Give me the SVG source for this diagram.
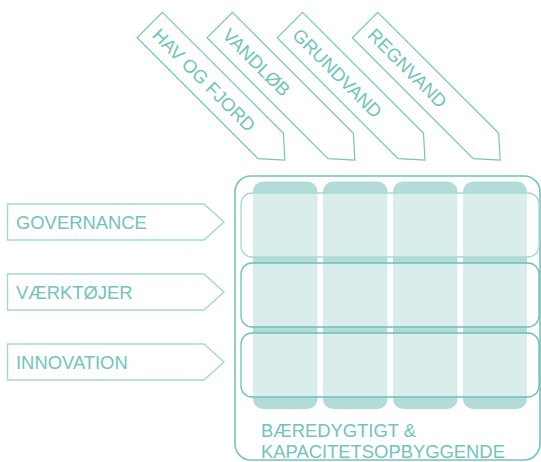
<svg xmlns="http://www.w3.org/2000/svg" width="541" height="462" viewBox="0 0 541 462">
<style>
.t{font-family:"Liberation Sans",Arial,sans-serif;font-size:18.4px;fill:#6fc4bb}
.la{fill:#fff;stroke:#a3d8d3;stroke-width:1.4}
.da{fill:#fff;stroke:#74c6be;stroke-width:1.2}
.col{fill:#b3dcd9}
.row{fill:#fff;fill-opacity:0.5;stroke-width:1.3}
</style>
<defs>
<polygon id="darrow" points="0,0 171,0 191,18 171,36 0,36"/>
</defs>
<g id="frame">
<rect x="235" y="176" width="305" height="284" rx="16" ry="16" fill="#fff" stroke="#74c4bb" stroke-width="1.6"/>
</g>
<g id="columns">
<rect class="col" x="253" y="181.5" width="64.5" height="227.5" rx="10" ry="10"/>
<rect class="col" x="323" y="181.5" width="64.5" height="227.5" rx="10" ry="10"/>
<rect class="col" x="393" y="181.5" width="64.5" height="227.5" rx="10" ry="10"/>
<rect class="col" x="463" y="181.5" width="64" height="227.5" rx="10" ry="10"/>
</g>
<g id="rows">
<rect class="row" x="241" y="193" width="298" height="64" rx="11" ry="11" stroke="#a9d8d4"/>
<rect class="row" x="241" y="263" width="298" height="64" rx="11" ry="11" stroke="#6cc0b8"/>
<rect class="row" x="241" y="333" width="298" height="64" rx="11" ry="11" stroke="#6cc0b8"/>
</g>
<g id="footer">
<text class="t" x="261" y="437">BÆREDYGTIGT &amp;</text>
<text class="t" x="261" y="458">KAPACITETSOPBYGGENDE</text>
</g>
<g id="governance">
<polygon class="la" points="7.5,204 204,204 224,222 204,240 7.5,240"/>
<text class="t" x="16" y="229">GOVERNANCE</text>
</g>
<g id="vaerktoejer">
<polygon class="la" points="7.5,274 204,274 224,292 204,310 7.5,310"/>
<text class="t" x="16" y="299">VÆRKTØJER</text>
</g>
<g id="innovation">
<polygon class="la" points="7.5,344 204,344 224,362 204,380 7.5,380"/>
<text class="t" x="16" y="369">INNOVATION</text>
</g>
<g id="hav" transform="translate(162.5,12.3) rotate(45)">
<use href="#darrow" class="da"/>
<text class="t" x="9" y="25">HAV OG FJORD</text>
</g>
<g id="vandloeb" transform="translate(232.5,12.3) rotate(45)">
<use href="#darrow" class="da"/>
<text class="t" x="9" y="25">VANDLØB</text>
</g>
<g id="grundvand" transform="translate(302.6,12.3) rotate(45)">
<use href="#darrow" class="da"/>
<text class="t" x="9" y="25">GRUNDVAND</text>
</g>
<g id="regnvand" transform="translate(377.8,12.3) rotate(45)">
<use href="#darrow" class="da"/>
<text class="t" x="9" y="25">REGNVAND</text>
</g>
</svg>
